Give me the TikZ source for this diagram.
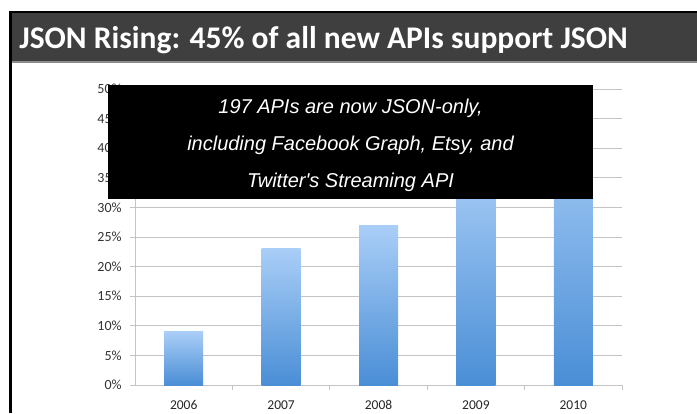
\documentclass[tikz,border=0pt]{standalone}
\usepackage{fontspec}
\setmainfont{Carlito}[Numbers=Lining]
\newfontfamily\notefont{Liberation Sans}
\usetikzlibrary{positioning}
\definecolor{titlegrey}{HTML}{3F3F3F}
\definecolor{gridgrey}{HTML}{C4C4C4}
\definecolor{barlight}{HTML}{A9CEF7}
\definecolor{bardark}{HTML}{4A8ED6}

\begin{document}
\begin{tikzpicture}
[x=1pt, y=-1pt, line width=0.75pt,
gridline/.style={draw=gridgrey, line width=0.9pt},
bar/.style={top color=barlight, bottom color=bardark, draw=none},
ylabel/.style={anchor=east, inner sep=0pt, text=black!80, font=\fontsize{14}{16}\selectfont},
xlabel/.style={anchor=base, inner sep=0pt, text=black!85, font=\fontsize{13.5}{16}\selectfont}]

\useasboundingbox[fill=white] (0,0) rectangle (697,413);

% heading strip
\fill[titlegrey] (12,13) rectangle (697,61);
\draw[black, line width=2pt] (9,12) -- (697,12);
\draw[black!45, line width=1.5pt] (12,62) -- (697,62);
\draw[black, line width=3pt] (10.5,11) -- (10.5,413);
\node[anchor=base west, inner sep=0pt, text=white,
      font=\bfseries\fontsize{31.5}{34}\selectfont] (title) at (19,48)
      {JSON Rising: 45\% of all new APIs support JSON};

% grid and value axis
\foreach \v in {0, 5, ..., 50} {
    \coordinate (g\v l) at (135, {385-5.92*\v});
    \coordinate (g\v r) at (622, {385-5.92*\v});
    \draw[gridline] (g\v l) -- (g\v r);
    \draw[gridline] (g\v l) -- ++(-5,0);
    \node[ylabel] (y\v) at ([xshift=-13pt]g\v l) {\v\%};
}
\draw[gridline] (g0l) -- (g50l);

% bars, one per year
\foreach \i/\yr/\v in {0/2006/9, 1/2007/23, 2/2008/27, 3/2009/38, 4/2010/45} {
    \path[bar] ({164.2+97.4*\i}, {385-5.92*\v}) rectangle ++(39, {5.92*\v});
    \coordinate (t\i) at ({232.4+97.4*\i}, 385);
    \draw[gridline] (t\i) -- ++(0,5);
    \node[xlabel] (x\yr) at ({183.7+97.4*\i}, 409) {\yr};
}

\node[fill=black, inner sep=0pt, minimum width=485pt, minimum height=114pt]
      (note) at (350.5,142) {};
\node[text=white, align=center, inner sep=0pt,
      font=\notefont\itshape\fontsize{20}{37}\selectfont] (notetext)
      at ([yshift=-3pt]note.center)
      {197 APIs are now JSON-only,\\
       including Facebook Graph, Etsy, and\\
       Twitter's Streaming API};

\end{tikzpicture}
\end{document}
